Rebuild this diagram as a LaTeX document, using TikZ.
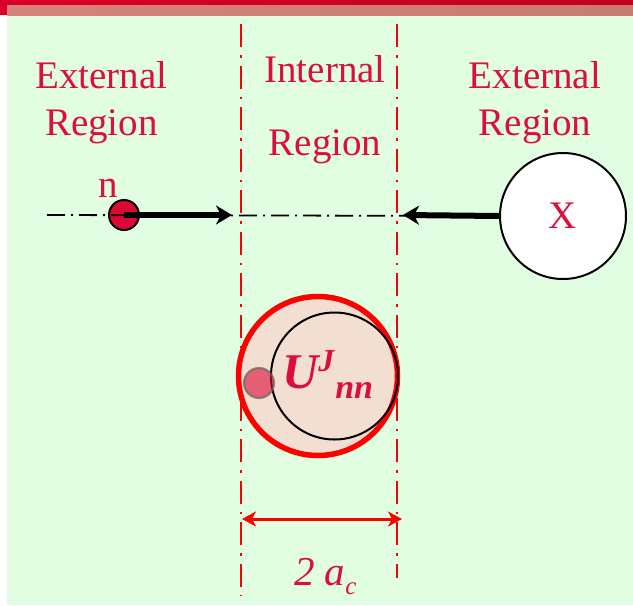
\documentclass[tikz,border=0pt]{standalone}
\usepackage{fontspec}
\setmainfont{Liberation Serif}
\usepackage{xcolor}
\usetikzlibrary{arrows.meta}
\definecolor{rgtext}{HTML}{DC0F3C}
\definecolor{rgline}{HTML}{FF0000}
\definecolor{rgbg}{HTML}{E2FEE2}
\definecolor{rgbar}{HTML}{DC0028}
\definecolor{rgbardark}{HTML}{C20020}
\definecolor{rgband}{HTML}{D6837B}
\definecolor{rgbanddark}{HTML}{C67C70}
\definecolor{rgpeach}{HTML}{F2DFD2}
\definecolor{rgpart}{HTML}{DC0A32}

\begin{document}
\begin{tikzpicture}[x=1pt,y=-1pt,
  regionlabel/.style={text=rgtext,align=center,anchor=north,inner sep=0pt},
  bound/.style={rgline,line width=2.5pt,dash pattern=on 23pt off 8pt on 2.5pt off 8pt},
  axisline/.style={black,line width=1.8pt,dash pattern=on 18pt off 6pt on 2pt off 6pt},
  bigarrow/.style={-{Stealth[length=16pt,width=19pt,inset=5pt]},line width=6pt,black},
  dimarrow/.style={{Stealth[length=14pt,width=15pt,inset=4pt]}-{Stealth[length=14pt,width=15pt,inset=4pt]},line width=3pt,rgline}]
  \useasboundingbox (0,0) rectangle (633,606);
  \fill[white] (0,0) rectangle (633,606);
  \fill[rgbg] (7,15) rectangle (633,605);
  \shade[left color=rgbar,right color=rgbardark] (0,0) rectangle (633,5);
  \shade[left color=rgband,right color=rgbanddark] (7,5) rectangle (633,15);
  \fill[rgbar] (0,0) rectangle (7,15);

  \foreach \x/\yb/\nm in {241/595/innerL, 397/578/innerR}
  {
    \coordinate (\nm top) at (\x,24);
    \coordinate (\nm bot) at (\x,\yb);
    \draw[bound] (\nm top) -- (\nm bot);
  }

  \node[regionlabel,font={\fontsize{39}{46.5}\selectfont}] (extleft) at (101.5,61.5) {External\\Region};
  \node[regionlabel,font={\fontsize{39}{73}\selectfont}] (internal) at (325,55.5) {Internal\\Region};
  \node[regionlabel,font={\fontsize{39}{46.5}\selectfont}] (extright) at (535,61.5) {External\\Region};

  \node[circle,draw=black,line width=2pt,fill=rgpart,minimum size=30pt,inner sep=0pt] (n) at (124,215) {};
  \node[anchor=base,text=rgtext,inner sep=0pt,font={\fontsize{39}{46}\selectfont}] (nlabel) at (108,197) {n};
  \node[circle,draw=black,line width=2pt,fill=white,minimum size=126pt,inner sep=0pt,text=rgtext,font={\fontsize{39}{46}\selectfont}] (X) at (563,216) {X};

  \coordinate (axstart) at (47,215);
  \coordinate (nin) at (232,215);
  \coordinate (xin) at (403,215);
  \draw[axisline] (axstart) -- (X.west);
  \draw[bigarrow] (n.center) -- (nin);
  \draw[bigarrow] (X.west) -- (xin);

  \node[circle,draw=rgline,line width=5.5pt,fill=rgpeach,minimum size=159pt,inner sep=0pt] (well) at (318,376) {};
  \node[circle,draw=black,line width=2pt,minimum size=127pt,inner sep=0pt] (core) at (334.5,376) {};
  \node[circle,draw=black!60,draw opacity=0.7,line width=2.2pt,fill=rgpart,fill opacity=0.6,minimum size=30pt,inner sep=0pt] (probe) at (259,383) {};
  \node[anchor=base west,text=rgtext,inner sep=0pt,font={\fontsize{50}{52}\selectfont\bfseries\itshape}] (pot) at (282,388)
    {U\raisebox{17pt}{\fontsize{32}{32}\selectfont J}\hspace{1pt}\raisebox{-10pt}{\fontsize{34}{34}\selectfont nn}};

  \coordinate (dimL) at (242,519);
  \coordinate (dimR) at (402,519);
  \draw[dimarrow] (dimL) -- (dimR);
  \node[anchor=base west,text=rgtext,inner sep=0pt,font={\fontsize{41}{44}\selectfont\itshape}] (width) at (294,585)
    {2 a\raisebox{-9pt}{\fontsize{25}{25}\selectfont c}};
\end{tikzpicture}
\end{document}
